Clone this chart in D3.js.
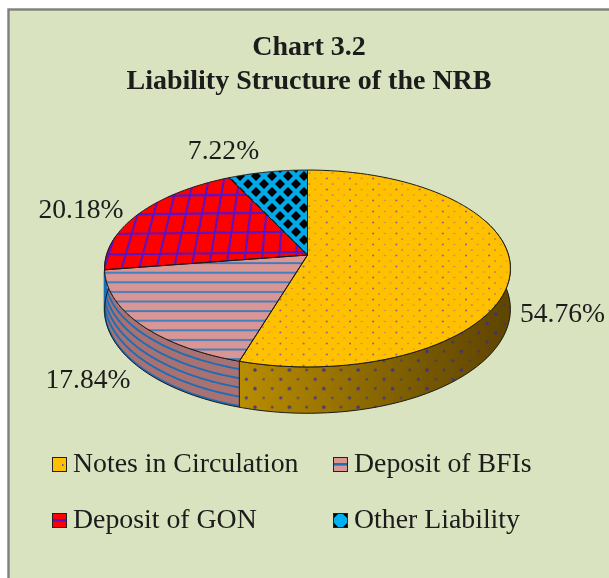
<!DOCTYPE html>
<html><head><meta charset="utf-8">
<script src="https://cdn.jsdelivr.net/npm/d3@7/dist/d3.min.js"></script>
<style>html,body{margin:0;padding:0;background:#fff}svg{display:block}text{font-family:"Liberation Serif",serif;fill:#1a1a1a}</style>
</head><body><svg id="c" width="609" height="578"></svg>
<script>
const titleLines = ["Chart 3.2", "Liability Structure of the NRB"];
const categories = ["Notes in Circulation", "Deposit of BFIs", "Deposit of GON", "Other Liability"];
const shares = [54.76, 17.84, 20.18, 7.22];
const patternIds = ["pNotes", "pBfi", "pGon", "pOther"];

const svg = d3.select("#c");
const defs = svg.append("defs");
const cx = 307.5, cy = 255, persp = 0.137, planeX = 201, planeY = 96.6, depth = 40;
const proj = (u, v, d = 0) => { const s = 1 / (1 + persp * v); return [cx + planeX * u * s, cy - planeY * v * s + d * s]; };
const rim = (t, d = 0) => proj(Math.sin(t), Math.cos(t), d);
const line = d3.line();
const arcPts = (a, b, d = 0) => d3.range(0, 81).map(i => rim(a + (b - a) * i / 80, d));

// fill patterns
function pattern(id, w, h, build) { const p = defs.append("pattern").attr("id", id).attr("patternUnits", "userSpaceOnUse").attr("width", w).attr("height", h); build(p); return p; }
function dots(p, w, h, bg, col, list) {
  if (bg) p.append("rect").attr("width", w).attr("height", h).attr("fill", bg);
  list.forEach(d => p.append("circle").attr("cx", d[0]).attr("cy", d[1]).attr("r", d[2]).attr("fill", col).attr("opacity", d[3]));
}
pattern("pNotes", 23.2, 11, p => dots(p, 23.2, 11, "#ffc000", "#6a4fc0", [[2, 2.5, .95, .9], [13.6, 2.5, .8, .55], [7.8, 8, .85, .7], [19.4, 8, .8, .45]]));
pattern("pSide", 34.4, 18.6, p => { p.attr("patternTransform", "translate(255,370)");
  dots(p, 34.4, 18.6, null, "#352a9c", [[0, 0, 1.8, .85], [17.2, 0, 1.4, .7], [25.8, 9.3, 1.6, .75], [8.6, 9.3, 1.3, .65], [34.4, 0, 1.8, .85], [0, 18.6, 1.8, .85], [17.2, 18.6, 1.4, .7], [34.4, 18.6, 1.8, .85]]); });
pattern("pBfi", 8, 9.6, p => { p.append("rect").attr("width", 8).attr("height", 9.6).attr("fill", "#d99694"); p.append("rect").attr("y", 3).attr("width", 8).attr("height", 1.9).attr("fill", "#3a7dbd"); });
pattern("pOther", 16, 16, p => {
  p.append("rect").attr("width", 16).attr("height", 16).attr("fill", "#00a8e8");
  [[0, 0], [16, 0], [0, 16], [16, 16], [8, 8]].forEach(c => p.append("path").attr("d", `M${c[0] - 5},${c[1]}L${c[0]},${c[1] - 5}L${c[0] + 5},${c[1]}L${c[0]},${c[1] + 5}Z`).attr("fill", "#000"));
});
pattern("pGon", 15, 15, p => { p.append("rect").attr("width", 15).attr("height", 15).attr("fill", "#ff0000"); });
const grad = defs.append("linearGradient").attr("id", "gSide").attr("gradientUnits", "userSpaceOnUse").attr("x1", 242).attr("x2", 510).attr("y1", 0).attr("y2", 0);
[[0, "#b98d00"], [.3, "#9c7600"], [.7, "#755700"], [1, "#5f4500"]].forEach(s => grad.append("stop").attr("offset", s[0]).attr("stop-color", s[1]));
const blur = defs.append("filter").attr("id", "soft").attr("x", "-5%").attr("y", "-5%").attr("width", "110%").attr("height", "110%");
blur.append("feGaussianBlur").attr("stdDeviation", 0.45);
const blurT = defs.append("filter").attr("id", "softText").attr("x", "-5%").attr("y", "-5%").attr("width", "110%").attr("height", "110%");
blurT.append("feGaussianBlur").attr("stdDeviation", 0.3);

// panel
svg.append("rect").attr("x", 8.5).attr("y", 9.5).attr("width", 640).attr("height", 620).attr("fill", "#d9e3bf").attr("stroke", "#7f7f7f").attr("stroke-width", 2.4);

// title
svg.append("g").attr("filter", "url(#softText)").selectAll("text").data(titleLines).join("text")
  .attr("x", 309).attr("y", (d, i) => 55 + i * 33.5).attr("text-anchor", "middle")
  .attr("font-size", 28).attr("font-weight", "bold").text(d => d);

// pie geometry from d3.pie, clockwise from 12 o'clock
const arcs = d3.pie().sort(null).startAngle(0).endAngle(2 * Math.PI)(shares);
const pie = svg.append("g").attr("filter", "url(#soft)");
const wall = (a, b) => line(arcPts(a, b, 0).concat(arcPts(a, b, depth).reverse())) + "Z";
const orange = arcs[0], pink = arcs[1];
const wallOrangeStart = 1.2;
const wallPinkEnd = pink.endAngle + 0.35;

// walls
pie.append("path").attr("d", wall(wallOrangeStart, orange.endAngle)).attr("fill", "url(#gSide)");
pie.append("path").attr("d", wall(wallOrangeStart, orange.endAngle)).attr("fill", "url(#pSide)");
pie.append("path").attr("d", wall(orange.endAngle, wallPinkEnd)).attr("fill", "#a97272");
d3.range(1, 6).forEach(k => pie.append("path").attr("fill", "none").attr("stroke", "#1f6db5").attr("stroke-width", 1.9)
  .attr("d", line(arcPts(orange.endAngle, wallPinkEnd, depth * (k - 0.15) / 5 + (k === 5 ? 0.1 : 0)))));
pie.append("path").attr("d", wall(wallOrangeStart, wallPinkEnd)).attr("fill", "none").attr("stroke", "#1b1b1b").attr("stroke-width", 1);
pie.append("path").attr("d", line([rim(orange.endAngle), rim(orange.endAngle, depth)])).attr("stroke", "#1b1b1b").attr("stroke-width", 1);

// top faces
const slicePath = d => line([proj(0, 0)].concat(arcPts(d.startAngle, d.endAngle))) + "Z";
pie.selectAll("path.top").data(arcs).join("path").attr("class", "top")
  .attr("d", slicePath).attr("fill", (d, i) => `url(#${patternIds[i]})`);

// crosshatch on the GON slice follows the plane's perspective
const gon = arcs[2];
defs.append("clipPath").attr("id", "gonClip").append("path").attr("d", slicePath(gon));
const hatch = pie.append("g").attr("clip-path", "url(#gonClip)").attr("stroke", "#5a12c4").attr("stroke-width", 2.1);
d3.range(-14, 2).forEach(i => { const u0 = i * 0.085 + 0.03; hatch.append("path").attr("d", line([proj(u0 - 0.02, -1.2), proj(u0 + 0.02, 1.2)])); });
d3.range(-2, 7).forEach(i => { const v0 = i * 0.22 + 0.03; hatch.append("path").attr("d", line([proj(-1.2, v0 - 0.03), proj(0.2, v0 + 0.005)])); });

pie.selectAll("path.edge").data(arcs).join("path").attr("class", "edge")
  .attr("d", slicePath).attr("fill", "none").attr("stroke", "#1b1b1b").attr("stroke-width", 1).attr("stroke-linejoin", "round");

// data labels
const labelX = [562.5, 88, 81, 223.5], labelY = [322, 388, 218, 159];
svg.append("g").attr("filter", "url(#softText)").selectAll("text").data(shares).join("text")
  .attr("x", (d, i) => labelX[i]).attr("y", (d, i) => labelY[i]).attr("text-anchor", "middle")
  .attr("font-size", 27.6).text(d => d3.format(".2f")(d) + "%");

// legend
const legX = [52, 333, 52, 333], legY = [457, 457, 513, 513];
const swatch = ["#ffc000", "#d99694", "#ff0000", "#00b0f0"];
const leg = svg.append("g").selectAll("g").data(categories).join("g").attr("transform", (d, i) => `translate(${legX[i]},${legY[i]})`);
leg.append("rect").attr("x", .5).attr("y", .5).attr("width", 14).attr("height", 14).attr("fill", (d, i) => swatch[i]).attr("stroke", "#222").attr("stroke-width", 1);
leg.filter((d, i) => i === 1 || i === 2).append("rect").attr("x", 1).attr("y", 6).attr("width", 13).attr("height", 2.6).attr("fill", (d, i) => ["#1f6db5", "#5a12c4"][i]);
leg.filter((d, i) => i === 0).append("rect").attr("x", 10).attr("y", 7).attr("width", 1.5).attr("height", 2).attr("fill", "#6a4fc0");
leg.filter((d, i) => i === 3).append("path").attr("d", "M1,1H5L1,5ZM14,1H10L14,5ZM1,14V10L5,14ZM14,14V10L10,14Z").attr("fill", "#000");
leg.append("text").attr("x", 21).attr("y", 15).attr("font-size", 27.8).attr("filter", "url(#softText)").text(d => d);
</script></body></html>
